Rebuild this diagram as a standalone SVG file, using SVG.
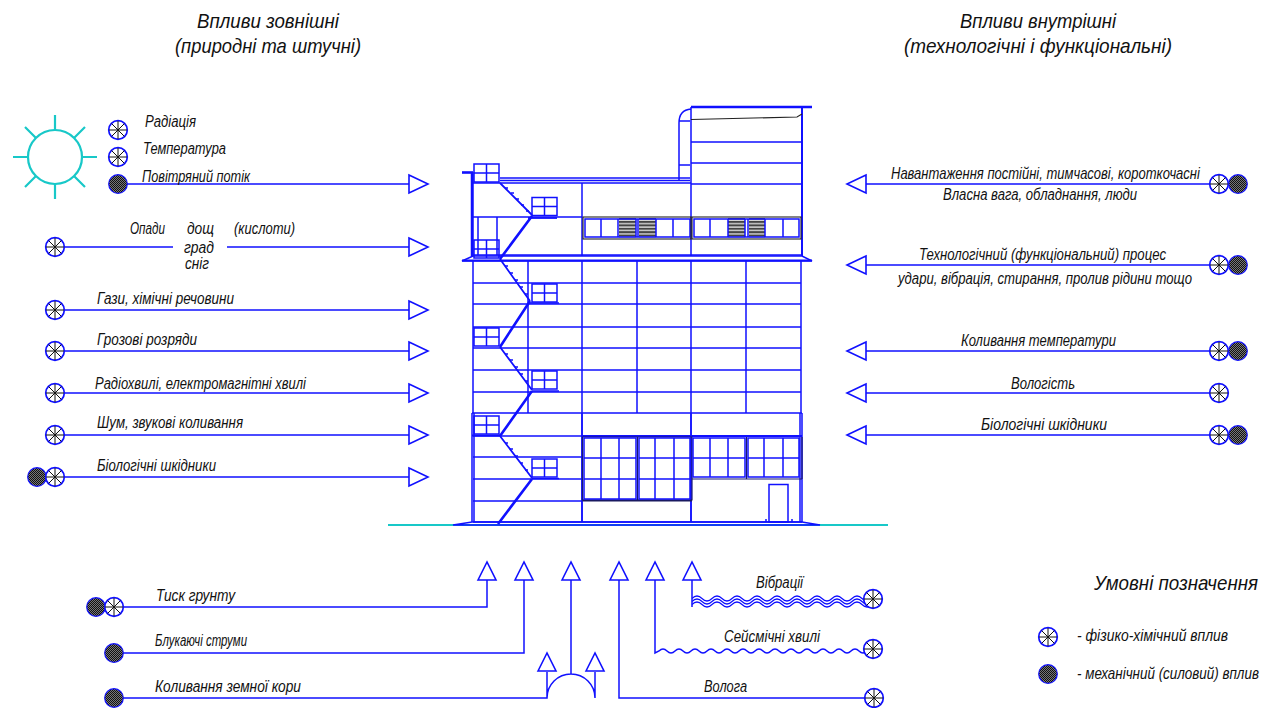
<svg xmlns="http://www.w3.org/2000/svg" width="1261" height="708" viewBox="0 0 1261 708">
<style>
text{font-family:"Liberation Sans",Arial,sans-serif;font-style:italic;fill:#111;font-size:16px}
.t{font-size:21px}
.b,.c,.k,.cy{fill:none;stroke-linecap:butt}
.b{stroke:#1010ff;stroke-width:1.5}
.c{stroke:#1010ff;stroke-width:1.5}
.th{stroke:#1010ff;stroke-width:2.6;fill:none}
.k{stroke:#222;stroke-width:1.1}
.cy{stroke:#18c8c8;stroke-width:2.2}
.a{fill:#fff;stroke:#1010ff;stroke-width:1.6}
</style>
<defs>
<pattern id="dots" width="2" height="2" patternUnits="userSpaceOnUse"><rect width="2" height="2" fill="#777"/><rect width="1" height="1" fill="#111"/><rect x="1" y="1" width="1" height="1" fill="#111"/></pattern>
<pattern id="louv" width="4" height="3.4" patternUnits="userSpaceOnUse"><rect width="4" height="3.4" fill="#d8d8d8"/><rect width="4" height="2" fill="#444"/></pattern>
<g id="phys"><circle r="9.300" fill="#fff" stroke="#1010ff" stroke-width="1.7"/><path d="M-9 0H9M0-9V9M-6.400-6.400L6.400 6.400M-6.400 6.400L6.400-6.400" stroke="#111" stroke-width="1" fill="none"/></g>
<g id="mech"><circle r="9.300" fill="url(#dots)" stroke="#1010ff" stroke-width="1.200"/></g>
<path id="ar" d="M0-9L19 0L0 9Z" class="a"/>
<path id="al" d="M0-9L-19 0L0 9Z" class="a"/>
<path id="au" d="M-9 18L0 0L9 18Z" class="a"/>
<g id="win"><rect width="25" height="18" class="b"/><path d="M12.500 0V18M0 9H25" class="b"/></g>
</defs>

<g id="sun"><circle cx="55" cy="157" r="27" class="cy"/><path d="M55 130V115M55 184V199M28 157H13M82 157H97M36 138L25 127M74 138L85 127M36 176L25 187M74 176L85 187" class="cy"/></g>

<g id="building">
<path d="M388 525H888" stroke="#18c8c8" stroke-width="2" fill="none"/>
<path d="M453 525L472 522H802L820 525Z" fill="none" class="b"/>
<path d="M691 107H812" stroke="#1010ff" stroke-width="2.600" fill="none"/>
<path d="M691 107V256M691 142H802M691 163H802M691 184H802M679 181V123Q679 110 691 109M690 121H679M690 165H679" class="b"/>
<path d="M802 108V256" stroke="#1010ff" stroke-width="2" fill="none"/>
<path d="M691 119.500L797 117L802 114" class="k"/>
<path d="M500 178H690M500 180.500H690M500 183H691" class="b"/>
<path d="M462 172.500H473" class="th"/>
<path d="M473 172V256M471.500 172V256" class="b"/>
<path d="M473 183H500M473 217H582M478 217V255M497 217V255M582 183V256M473 255H802" class="b"/>
<path d="M528 218H557" class="th" style="stroke-width:1.800"/>
<path d="M462 261L473 256H802L812 261Z" fill="#fff" class="b"/>
<path d="M462 260.500H812" stroke="#1010ff" stroke-width="2.200" fill="none"/>
<path d="M473 261V413M528 261V413M582 261V522M637 261V413M691 261V522M746 261V413M801 261V413M473 283H801M473 304H801M473 327H801M473 348H801M473 370H801M473 392H801" class="b"/>
<path d="M472 413H802M472 413V522M474 413V522M582 413V522M691 413V522M802 413V522M800 413V522M473 436H802M473 457H582M473 479H582M473 501H582M473 522H802" class="b"/>
<path d="M472 435.500H500M582 436H802" class="th" style="stroke-width:2"/>
<path d="M532 478.500H559M532 391H559M528 303H559" class="b"/>
<g id="ribbon">
<rect x="619" y="218" width="17" height="20" fill="url(#louv)"/><rect x="639" y="218" width="17" height="20" fill="url(#louv)"/><rect x="728" y="218" width="17" height="20" fill="url(#louv)"/><rect x="749" y="218" width="16" height="20" fill="url(#louv)"/>
<path d="M585 219H690V237H585ZM694 219H799V237H694ZM601 219V237M618 219V237M636 219V237M638 219V237M656 219V237M673 219V237M710 219V237M728 219V237M745 219V237M748 219V237M765 219V237M783 219V237" class="b"/>
<rect x="583" y="217" width="108" height="22" class="k"/><rect x="692" y="217" width="109" height="22" class="k"/>
</g>
<g id="large-windows">
<path d="M582.500 437H692V500H582.500ZM637.500 437V500M692 479H802M746.500 437V479M802 437V479" stroke="#1a1a70" stroke-width="1.200" fill="none"/>
<path d="M582.500 500.500H692" stroke="#1a1a60" stroke-width="1.800"/>
<path d="M584 438H636V499H584ZM639 438H690V499H639ZM693 438H745V477H693ZM748 438H799V477H748ZM601 438V499M619 438V499M655 438V499M674 438V499M710 438V477M728 438V477M764 438V477M783 438V477M584 458H636M639 458H690M693 458H745M748 458H799M584 479H636M639 479H690" class="b"/>
<rect x="769" y="484.500" width="19" height="37.500" class="b"/>
<path d="M766 519V522M792 519V522" class="b"/>
</g>
<use href="#win" x="474" y="164"/><use href="#win" x="532" y="197.500"/><use href="#win" x="474" y="240"/><use href="#win" x="532" y="284"/><use href="#win" x="474" y="328"/><use href="#win" x="532" y="371"/><use href="#win" x="474" y="416"/><use href="#win" x="532" y="459"/>
<g id="stairs">
<path d="M500 183L532 215M500 259L530 301M500 347L532 390M500 436L532 478" stroke="#1010ff" stroke-width="1.800" fill="none"/>
<path d="M532 216L500 259M530 301L500 347M532 391L500 436M532 479L498 524" class="th"/>
<path d="M505 188h3M511 193h3M516 199h3M521 205h3M526 211h3M505 266h3M510 273h3M515 280h3M520 287h3M525 294h3M505 354h3M510 360h3M515 367h3M520 374h3M525 381h3M505 443h3M510 449h3M515 456h3M520 463h3M525 470h3" class="b"/>
</g>
</g>

<g id="connectors">
<path d="M118 184H409M55 247H173M227 247H409M55 310H409M55 351H409M55 393H409M55 435H409M55 477H409" class="c"/>
<path d="M866 184H1219M866 265H1219M866 351H1219M866 393H1219M866 435H1219" class="c"/>
<path d="M487 580V607H114M524 580V653H114M114 698H547V672M571 580V674M547 698A24 24 0 0 1 595 698V672M619 580V698H874" class="c"/>
<path d="M655 580V653l4-2q4-4 8 0q4 4 8 0q4-4 8 0q4 4 8 0q4-4 8 0q4 4 8 0q4-4 8 0q4 4 8 0q4-4 8 0q4 4 8 0q4-4 8 0q4 4 8 0q4-4 8 0q4 4 8 0q4-4 8 0q4 4 8 0q4-4 8 0q4 4 8 0q4-4 8 0q4 4 8 0q4-4 8 0q4 4 8 0q4-4 8 0q4 4 8 0q4-4 8 0q4 4 8 0" class="c"/>
<path d="M692 580V607" class="c"/>
<path d="M692 598.500q5-5 10 0q5 5 10 0q5-5 10 0q5 5 10 0q5-5 10 0q5 5 10 0q5-5 10 0q5 5 10 0q5-5 10 0q5 5 10 0q5-5 10 0q5 5 10 0q5-5 10 0q5 5 10 0q5-5 10 0q5 5 10 0q5-5 10 0q5 5 10 0" class="b" style="stroke-width:1.200"/>
<path d="M692 601.500q5-5 10 0q5 5 10 0q5-5 10 0q5 5 10 0q5-5 10 0q5 5 10 0q5-5 10 0q5 5 10 0q5-5 10 0q5 5 10 0q5-5 10 0q5 5 10 0q5-5 10 0q5 5 10 0q5-5 10 0q5 5 10 0q5-5 10 0q5 5 10 0" class="b" style="stroke-width:1.200"/>
<path d="M692 604.500q5-5 10 0q5 5 10 0q5-5 10 0q5 5 10 0q5-5 10 0q5 5 10 0q5-5 10 0q5 5 10 0q5-5 10 0q5 5 10 0q5-5 10 0q5 5 10 0q5-5 10 0q5 5 10 0q5-5 10 0q5 5 10 0q5-5 10 0q5 5 10 0" class="b" style="stroke-width:1.200"/>
<use href="#ar" x="409" y="184"/><use href="#ar" x="409" y="247"/><use href="#ar" x="409" y="310"/><use href="#ar" x="409" y="351"/><use href="#ar" x="409" y="393"/><use href="#ar" x="409" y="435"/><use href="#ar" x="409" y="477"/>
<use href="#al" x="866" y="184"/><use href="#al" x="866" y="265"/><use href="#al" x="866" y="351"/><use href="#al" x="866" y="393"/><use href="#al" x="866" y="435"/>
<use href="#au" x="487" y="562"/><use href="#au" x="524" y="562"/><use href="#au" x="571" y="562"/><use href="#au" x="619" y="562"/><use href="#au" x="655" y="562"/><use href="#au" x="692" y="562"/><use href="#au" x="547" y="653"/><use href="#au" x="595" y="653"/>
</g>

<g id="symbols">
<use href="#phys" x="118" y="130"/><use href="#phys" x="118" y="157"/><use href="#mech" x="118" y="184"/>
<use href="#phys" x="55" y="247"/><use href="#phys" x="55" y="310"/><use href="#phys" x="55" y="351"/><use href="#phys" x="55" y="393"/><use href="#phys" x="55" y="435"/><use href="#mech" x="37" y="477"/><use href="#phys" x="55" y="477"/>
<use href="#phys" x="1219" y="184"/><use href="#mech" x="1238" y="184"/><use href="#phys" x="1219" y="265"/><use href="#mech" x="1238" y="265"/><use href="#phys" x="1219" y="351"/><use href="#mech" x="1238" y="351"/><use href="#phys" x="1219" y="393"/><use href="#phys" x="1219" y="435"/><use href="#mech" x="1238" y="435"/>
<use href="#mech" x="96" y="607"/><use href="#phys" x="114" y="607"/><use href="#mech" x="114" y="653"/><use href="#mech" x="114" y="698"/>
<use href="#phys" x="873" y="599"/><use href="#phys" x="873" y="649"/><use href="#phys" x="874" y="698"/>
<use href="#phys" x="1048" y="637"/><use href="#mech" x="1048" y="674"/>
</g>

<g id="labels">
<text class="t" x="197" y="28" textLength="142" lengthAdjust="spacingAndGlyphs">Впливи зовнішні</text>
<text class="t" x="175" y="53" textLength="186" lengthAdjust="spacingAndGlyphs">(природні та штучні)</text>
<text class="t" x="960" y="28" textLength="156" lengthAdjust="spacingAndGlyphs">Впливи внутрішні</text>
<text class="t" x="904" y="53" textLength="268" lengthAdjust="spacingAndGlyphs">(технологічні і функціональні)</text>
<text x="145" y="127" textLength="51" lengthAdjust="spacingAndGlyphs">Радіація</text>
<text x="143" y="154" textLength="83" lengthAdjust="spacingAndGlyphs">Температура</text>
<text x="142" y="182" textLength="108" lengthAdjust="spacingAndGlyphs">Повітряний потік</text>
<text x="130" y="234" textLength="35" lengthAdjust="spacingAndGlyphs">Опади</text>
<text x="187" y="234" textLength="27" lengthAdjust="spacingAndGlyphs">дощ</text>
<text x="234" y="234" textLength="61" lengthAdjust="spacingAndGlyphs">(кислоти)</text>
<text x="184" y="253" textLength="30" lengthAdjust="spacingAndGlyphs">град</text>
<text x="185" y="269" textLength="24" lengthAdjust="spacingAndGlyphs">сніг</text>
<text x="97" y="304" textLength="137" lengthAdjust="spacingAndGlyphs">Гази, хімічні речовини</text>
<text x="97" y="345" textLength="100" lengthAdjust="spacingAndGlyphs">Грозові розряди</text>
<text x="95" y="389" textLength="211" lengthAdjust="spacingAndGlyphs">Радіохвилі, електромагнітні хвилі</text>
<text x="97" y="428" textLength="146" lengthAdjust="spacingAndGlyphs">Шум, звукові коливання</text>
<text x="97" y="471" textLength="119" lengthAdjust="spacingAndGlyphs">Біологічні шкідники</text>
<text transform="translate(891 179) scale(.858 1)" textLength="360" lengthAdjust="spacingAndGlyphs">Навантаження постійні, тимчасові, короткочасні</text>
<text x="943" y="200" textLength="194" lengthAdjust="spacingAndGlyphs">Власна вага, обладнання, люди</text>
<text x="919" y="260" textLength="247" lengthAdjust="spacingAndGlyphs">Технологічний (функціональний) процес</text>
<text x="898" y="284" textLength="294" lengthAdjust="spacingAndGlyphs">удари, вібрація, стирання, пролив рідини тощо</text>
<text x="961" y="346" textLength="155" lengthAdjust="spacingAndGlyphs">Коливання температури</text>
<text x="1011" y="389" textLength="64" lengthAdjust="spacingAndGlyphs">Вологість</text>
<text x="981" y="430" textLength="126" lengthAdjust="spacingAndGlyphs">Біологічні шкідники</text>
<text x="156" y="601" textLength="79" lengthAdjust="spacingAndGlyphs">Тиск грунту</text>
<text x="155" y="646" textLength="92" lengthAdjust="spacingAndGlyphs">Блукаючі струми</text>
<text x="155" y="692" textLength="146" lengthAdjust="spacingAndGlyphs">Коливання земної кори</text>
<text x="756" y="588" textLength="47" lengthAdjust="spacingAndGlyphs">Вібрації</text>
<text x="724" y="642" textLength="96" lengthAdjust="spacingAndGlyphs">Сейсмічні хвилі</text>
<text x="704" y="692" textLength="43" lengthAdjust="spacingAndGlyphs">Волога</text>
<text class="t" transform="translate(1094 590) scale(.85 1)" textLength="193" lengthAdjust="spacingAndGlyphs">Умовні позначення</text>
<text x="1077" y="641" textLength="151" lengthAdjust="spacingAndGlyphs">- фізико-хімічний вплив</text>
<text transform="translate(1077 679) scale(.846 1)" textLength="215" lengthAdjust="spacingAndGlyphs">- механічний (силовий) вплив</text>
</g>
</svg>
